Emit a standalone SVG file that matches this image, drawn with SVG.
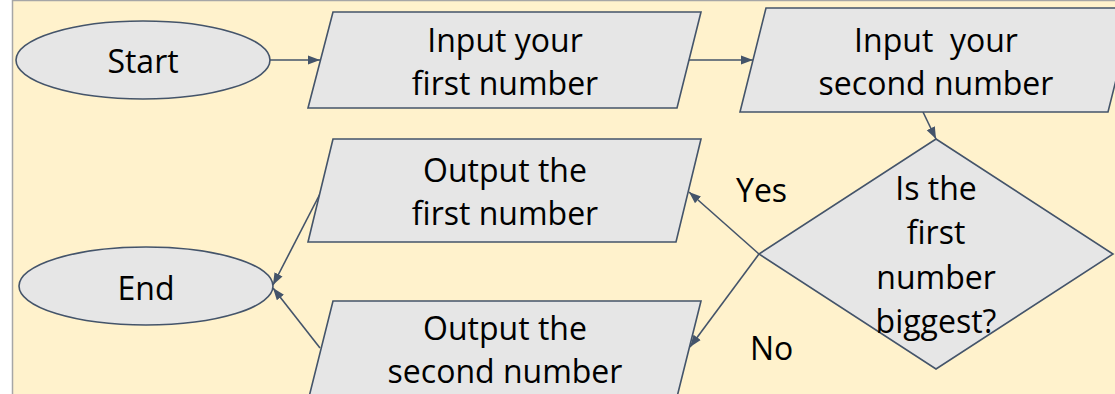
<svg xmlns="http://www.w3.org/2000/svg" width="1115" height="394" viewBox="0 0 1115 394">
<style>
.shape{fill:#E6E6E6;stroke:#44546A;stroke-width:1.6}
.conn{fill:none;stroke:#44546A;stroke-width:1.6}
.t{font-family:"Open Sans","Liberation Sans",sans-serif;font-size:32px;fill:#000;text-anchor:middle}
.lbl{font-family:"Open Sans","Liberation Sans",sans-serif;font-size:32px;fill:#000}
</style>
<defs>
<marker id="arr" markerUnits="userSpaceOnUse" markerWidth="14" markerHeight="12" viewBox="0 0 14 12" refX="12" refY="6" orient="auto">
<path d="M0,1.5 L12,6 L0,10.5 Z" fill="#44546A"/>
</marker>
</defs>
<rect x="12.5" y="0.5" width="1120" height="400" fill="#FFF2CC" stroke="#A6A6A6" stroke-width="1.5"/>
<g id="connectors">
<line class="conn" x1="270" y1="60" x2="320" y2="60" marker-end="url(#arr)"/>
<line class="conn" x1="688" y1="60" x2="753" y2="60" marker-end="url(#arr)"/>
<line class="conn" x1="923" y1="112" x2="936" y2="139" marker-end="url(#arr)"/>
<line class="conn" x1="759" y1="254" x2="689" y2="192" marker-end="url(#arr)"/>
<line class="conn" x1="759" y1="254" x2="690" y2="347" marker-end="url(#arr)"/>
<line class="conn" x1="322" y1="190" x2="273" y2="285" marker-end="url(#arr)"/>
<line class="conn" x1="320" y1="348" x2="273" y2="288" marker-end="url(#arr)"/>
</g>
<g id="start">
<ellipse class="shape" cx="143" cy="60" rx="127" ry="39"/>
<text class="t" x="143" y="73">Start</text>
</g>
<g id="input1">
<polygon class="shape" points="333,12 701,12 677,108 308,108"/>
<text class="t" x="505" y="52">Input your</text>
<text class="t" x="505" y="95">first number</text>
</g>
<g id="input2">
<polygon class="shape" points="766,8 1134,8 1108,112 740,112"/>
<text class="t" x="936" y="52" xml:space="preserve">Input  your</text>
<text class="t" x="936" y="95">second number</text>
</g>
<g id="decision">
<polygon class="shape" points="936,139 1113,254 936,369 759,254"/>
<text class="t" x="936" y="200">Is the</text>
<text class="t" x="936" y="244">first</text>
<text class="t" x="936" y="289">number</text>
<text class="t" x="936" y="333">biggest?</text>
</g>
<g id="output1">
<polygon class="shape" points="333,139 701,139 676,242 308,242"/>
<text class="t" x="505" y="182">Output the</text>
<text class="t" x="505" y="225">first number</text>
</g>
<g id="output2">
<polygon class="shape" points="333,301 701,301 675,405 307,405"/>
<text class="t" x="505" y="340">Output the</text>
<text class="t" x="505" y="383">second number</text>
</g>
<g id="end">
<ellipse class="shape" cx="146" cy="286" rx="127" ry="39"/>
<text class="t" x="146" y="300">End</text>
</g>
<g id="labels">
<text class="lbl" x="736" y="202">Yes</text>
<text class="lbl" x="750" y="360">No</text>
</g>
</svg>
